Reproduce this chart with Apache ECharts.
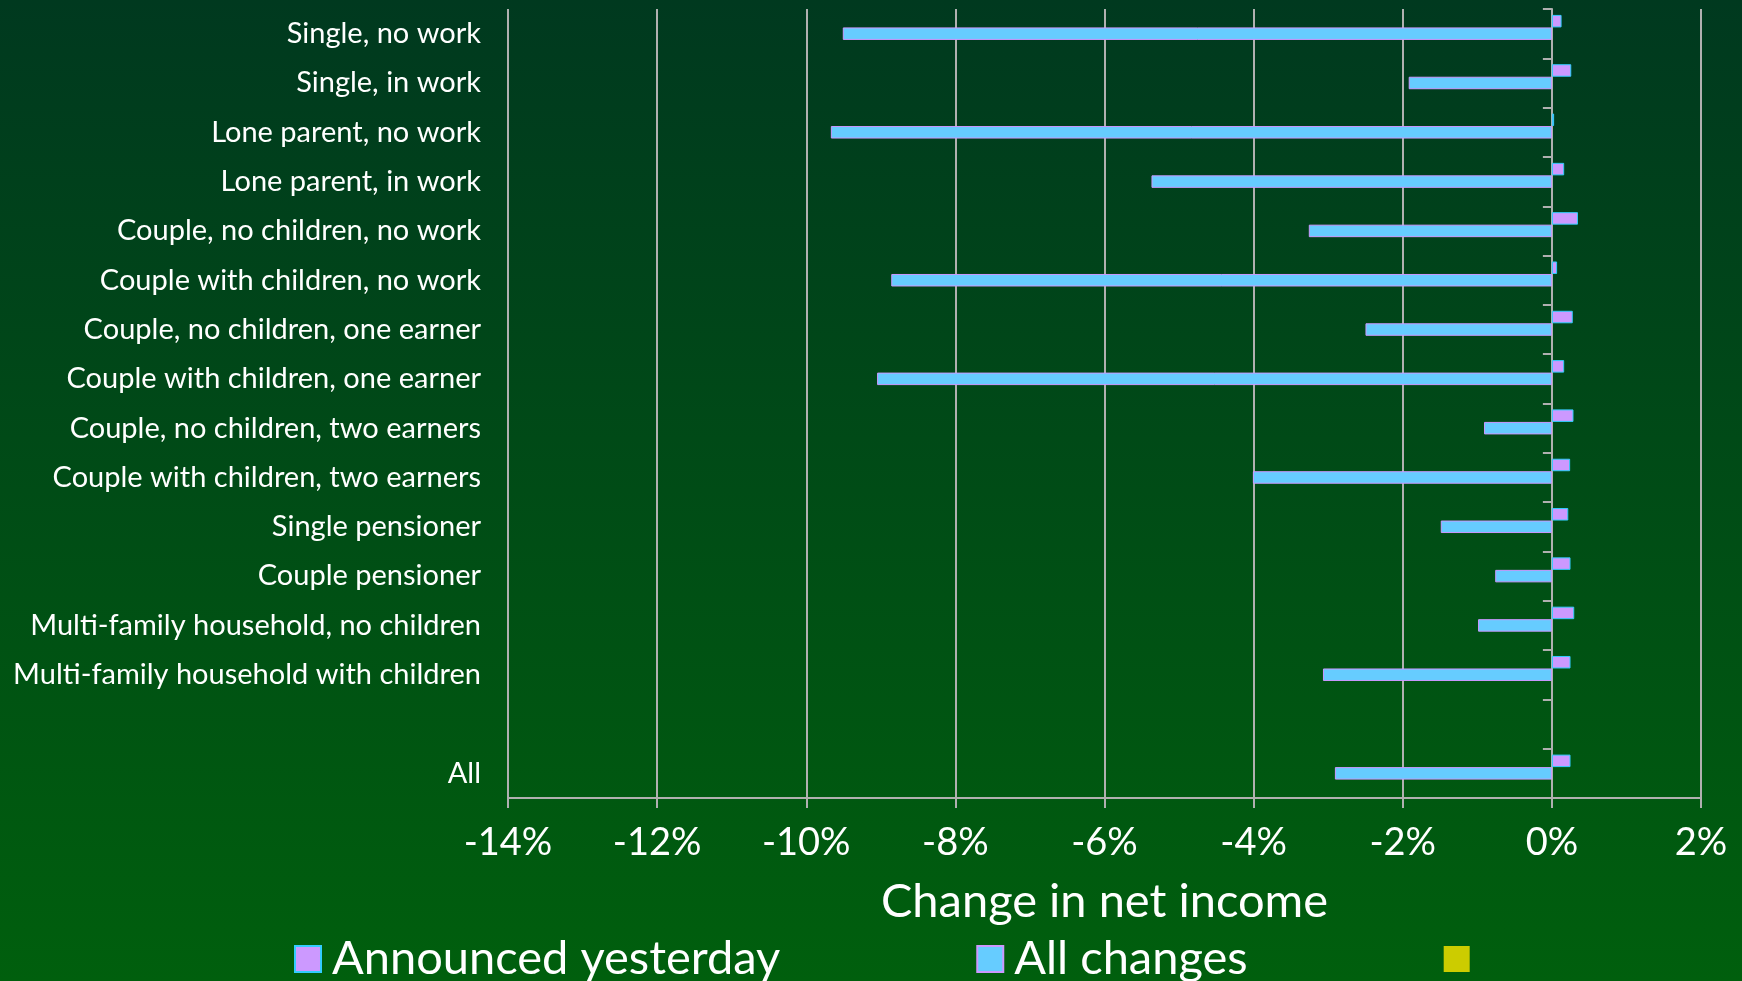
<!DOCTYPE html>
<html>
<head>
<meta charset="utf-8">
<script src="https://cdn.jsdelivr.net/npm/echarts@6/dist/echarts.min.js"></script>
<style>
  html, body { margin: 0; padding: 0; }
  #main { width: 1742px; height: 981px; }
</style>
</head>
<body>
<div id="main"></div>
<script>
// household types, top to bottom (blank row before "All")
var categories = [
  'Single, no work',
  'Single, in work',
  'Lone parent, no work',
  'Lone parent, in work',
  'Couple, no children, no work',
  'Couple with children, no work',
  'Couple, no children, one earner',
  'Couple with children, one earner',
  'Couple, no children, two earners',
  'Couple with children, two earners',
  'Single pensioner',
  'Couple pensioner',
  'Multi-family household, no children',
  'Multi-family household with children',
  '',
  'All'
];

// % change in net income
var announcedYesterday = [0.13, 0.26, 0.03, 0.165, 0.35, 0.07, 0.28, 0.165, 0.29, 0.245, 0.22, 0.25, 0.30, 0.25, '-', 0.25];
var allChanges = [-9.51, -1.92, -9.67, -5.37, -3.26, -8.86, -2.50, -9.05, -0.91, -4.01, -1.49, -0.76, -0.99, -3.07, '-', -2.91];
var emptySeries = [];

var xTicks = { min: -14, max: 2, step: 2 };

var lineColor = '#b0b0b0';
var fontFamily = 'Lato, "Liberation Sans", sans-serif';

var myChart = echarts.init(document.getElementById('main'));

var option = {
  backgroundColor: {
    type: 'linear', x: 0, y: 0, x2: 0, y2: 1,
    colorStops: [
      { offset: 0, color: '#00391f' },
      { offset: 1, color: '#005f0d' }
    ]
  },
  textStyle: { fontFamily: fontFamily, color: '#ffffff' },
  animation: false,
  grid: { left: 508, right: 41, top: 9, bottom: 183, containLabel: false },
  legend: {
    left: 289,
    top: 929,
    itemWidth: 26,
    itemHeight: 26,
    itemGap: 196,
    icon: 'rect',
    textStyle: { color: '#ffffff', fontSize: 47, lineHeight: 50, padding: [0, 0, 0, 6], fontFamily: fontFamily },
    data: ['Announced yesterday', 'All changes', ' ']
  },
  xAxis: {
    type: 'value',
    min: xTicks.min,
    max: xTicks.max,
    interval: xTicks.step,
    name: 'Change in net income',
    nameLocation: 'middle',
    nameGap: 80,
    nameTextStyle: { color: '#ffffff', fontSize: 47, fontFamily: fontFamily },
    axisLine: { show: true, onZero: false, lineStyle: { color: lineColor, width: 2 } },
    axisTick: { show: true, length: 10, lineStyle: { color: lineColor, width: 2 } },
    axisLabel: { color: '#ffffff', fontSize: 38, margin: 26, formatter: '{value}%' },
    splitLine: { show: true, lineStyle: { color: lineColor, width: 2 } }
  },
  yAxis: [
    {
      // labels on the left edge
      type: 'category',
      inverse: true,
      data: categories,
      axisLine: { show: false, onZero: false },
      axisTick: { show: false },
      axisLabel: { color: '#ffffff', fontSize: 29, margin: 27 }
    },
    {
      // axis line sitting on 0%
      type: 'category',
      inverse: true,
      position: 'left',
      data: categories,
      axisLine: { show: true, onZero: true, lineStyle: { color: lineColor, width: 2 } },
      axisTick: { show: true, length: 9, lineStyle: { color: lineColor, width: 2 } },
      axisLabel: { show: false },
      splitLine: { show: false }
    }
  ],
  series: [
    {
      name: 'Announced yesterday',
      type: 'bar',
      yAxisIndex: 0,
      barWidth: 12.5,
      barGap: '0%',
      itemStyle: { color: '#cc99ff', borderColor: '#33ccff', borderWidth: 1 },
      data: announcedYesterday
    },
    {
      name: 'All changes',
      type: 'bar',
      yAxisIndex: 0,
      barWidth: 12.5,
      barGap: '0%',
      itemStyle: { color: '#66ccff', borderColor: '#cc99ff', borderWidth: 1 },
      data: allChanges
    },
    {
      name: ' ',
      type: 'bar',
      yAxisIndex: 0,
      barWidth: 12.5,
      barGap: '0%',
      itemStyle: { color: '#cccc00' },
      data: emptySeries
    }
  ]
};

myChart.setOption(option);
</script>
</body>
</html>
